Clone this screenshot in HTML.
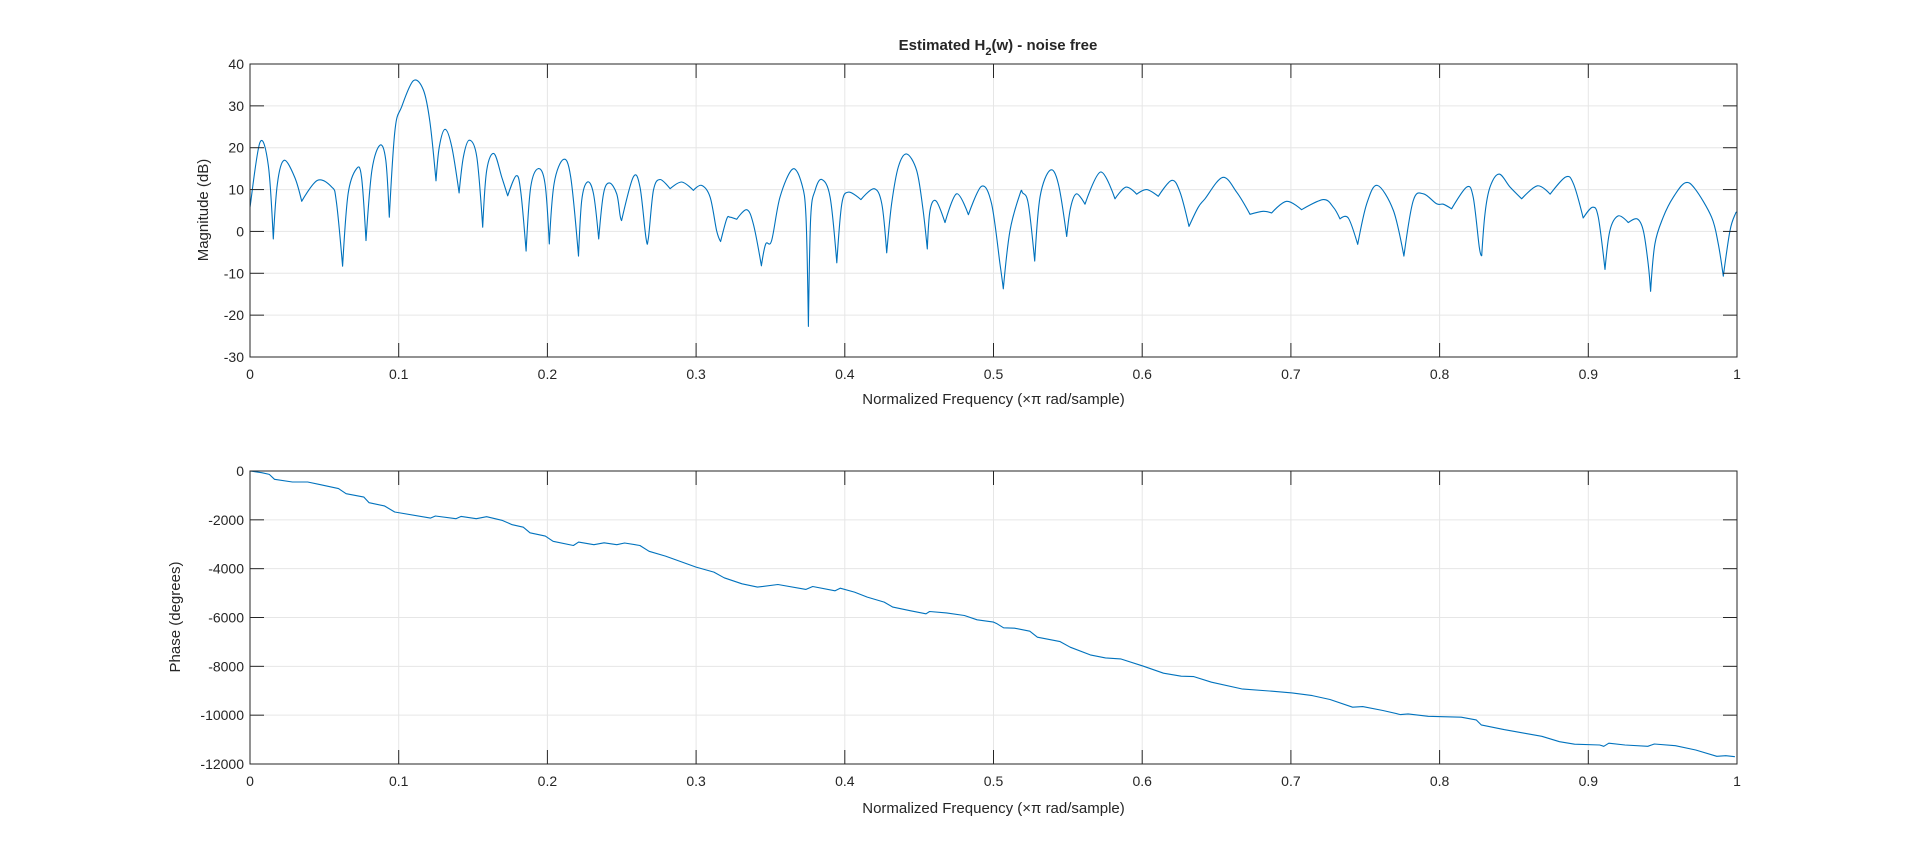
<!DOCTYPE html>
<html><head><meta charset="utf-8"><style>
html,body{margin:0;padding:0;background:#fff;}
svg text{font-family:"Liberation Sans",Arial,sans-serif;fill:#262626;}
</style></head><body>
<svg id="fig" width="1920" height="858" viewBox="0 0 1920 858" xmlns="http://www.w3.org/2000/svg">
<rect width="1920" height="858" fill="#fff"/>
<g id="top"></g>
<g id="bot"></g>
</svg>
<script>
const xTicks = [0,0.1,0.2,0.3,0.4,0.5,0.6,0.7,0.8,0.9,1];
const xTickLabels = ["0","0.1","0.2","0.3","0.4","0.5","0.6","0.7","0.8","0.9","1"];
const magTicks = [40,30,20,10,0,-10,-20,-30];
const phaseTicks = [0,-2000,-4000,-6000,-8000,-10000,-12000];
const magFreq = [0,.0067,.0123,.0157,.0184,.0229,.030,.0348,.0453,.055,.058,.0623,.066,.0717,.075,.078,.082,.0874,.0913,.0937,.0975,.102,.1099,.1166,.121,.1251,.1273,.1312,.1357,.1406,.1435,.1475,.1525,.1565,.1592,.1641,.1693,.1733,.179,.182,.1857,.1888,.1939,.1984,.2013,.2045,.2108,.2157,.2209,.2231,.2269,.231,.2345,.2377,.2417,.2466,.2489,.2499,.2578,.2623,.2663,.2679,.2713,.2757,.2825,.2903,.2982,.3037,.3094,.3138,.3165,.3206,.3228,.3273,.334,.3385,.3439,.3468,.3508,.3564,.3649,.371,.3739,.3755,.3771,.38,.3845,.3901,.3946,.398,.4025,.4108,.4197,.4249,.4282,.4315,.436,.4416,.4483,.4524,.4555,.4573,.4613,.4674,.4752,.4831,.492,.4987,.5044,.5066,.5111,.5178,.5196,.5234,.5277,.5313,.538,.5436,.5492,.5519,.5559,.5615,.572,.5817,.5891,.5963,.603,.6108,.6198,.6254,.6315,.6377,.6422,.6541,.6635,.6725,.6814,.687,.6971,.7072,.7218,.7285,.733,.7386,.7449,.751,.7581,.7689,.776,.7823,.7891,.798,.8025,.8081,.8182,.8226,.8267,.8283,.8305,.8339,.84,.8474,.8552,.8658,.8743,.8848,.89,.8966,.9029,.9067,.9112,.9145,.9201,.9269,.9329,.937,.9403,.9419,.9448,.9504,.9572,.965,.9717,.9829,.9874,.9908,.9953,.9989,1];
const magDb = [5.8,21.3,15.8,-1.8,11.4,17,13,7.2,12.2,10.6,7.4,-8.3,9,15,13,-2.2,14.6,20.6,17,3.4,24.2,29.8,36,33.8,26.2,12.1,20.2,24.4,20.2,9.2,17.8,21.8,17.8,1,14.6,18.6,13,8.5,13.3,9.8,-4.7,10.6,15,11.4,-3,11.4,17.2,13,-5.9,7.4,11.8,9,-1.8,9,11.6,9,3.8,2.6,13,10.6,-1.6,-1.6,9.8,12.4,10.2,11.8,9.8,11,8.2,0.2,-2.4,3,3.4,2.9,5.2,1.8,-8.2,-3,-2.2,8.2,14.9,11.4,3.4,-22.7,3.4,9.8,12.4,8.2,-7.5,6.6,9.4,7.6,10.2,6.6,-5.1,6.6,15.4,18.5,14.6,5.8,-4.2,5,7.3,2.1,9,4,10.8,6.6,-7.8,-13.7,0.2,9,9.2,6.6,-7.1,8.2,14.6,11.4,-1.2,5.8,9,6.5,14.2,7.8,10.6,8.9,10,8.4,12.2,9.4,1.2,5.8,7.8,12.9,9.4,4.1,4.8,4.4,7.2,5.2,7.6,5.8,3,3.2,-3.1,6.6,11,5,-5.9,7.4,9,6.6,6.5,5.4,10.6,8.2,-3.8,-5.8,4.2,10.6,13.7,10.6,7.8,10.9,8.9,13,11.4,3.2,5.8,3.4,-9.1,0.2,3.7,2.1,3,0.2,-7.8,-14.3,-3,3.4,8.2,11.6,10.2,3.4,-3,-10.7,0.2,4.2,4.5];
const phaseFreq = [0,.0079,.013,.0165,.0285,.0388,.0474,.0595,.0646,.0766,.0801,.0904,.0973,.1213,.1247,.1385,.142,.1522,.1591,.1694,.1763,.1838,.1883,.1986,.2038,.2175,.221,.2313,.2381,.2467,.2519,.2622,.2684,.2794,.3,.312,.3189,.3309,.3412,.355,.3739,.3784,.3935,.3969,.4065,.4151,.4265,.4323,.4443,.4546,.457,.4684,.4804,.489,.5,.5024,.5068,.5142,.5244,.5295,.5448,.5516,.5651,.5753,.5855,.6008,.6143,.6262,.6347,.6466,.6669,.6873,.7008,.7144,.7263,.7415,.7483,.7619,.7738,.7788,.7924,.8145,.8246,.828,.8433,.8569,.8687,.8806,.8908,.9077,.9104,.9138,.9247,.94,.9444,.9586,.9722,.9864,.9925,.9986];
const phaseDeg = [0,-70,-140,-340,-450,-450,-560,-720,-930,-1070,-1300,-1430,-1680,-1930,-1845,-1955,-1860,-1955,-1870,-2020,-2200,-2300,-2530,-2665,-2880,-3050,-2910,-3020,-2940,-3020,-2950,-3050,-3290,-3485,-3935,-4140,-4375,-4620,-4755,-4650,-4850,-4730,-4905,-4800,-4960,-5165,-5370,-5575,-5725,-5850,-5755,-5810,-5920,-6095,-6190,-6260,-6420,-6440,-6560,-6805,-6985,-7215,-7530,-7655,-7695,-7995,-8280,-8405,-8420,-8650,-8925,-9020,-9090,-9200,-9360,-9675,-9650,-9810,-9975,-9950,-10045,-10085,-10195,-10400,-10590,-10740,-10865,-11085,-11190,-11220,-11275,-11150,-11220,-11275,-11180,-11250,-11425,-11685,-11660,-11700];

const NS='http://www.w3.org/2000/svg';
const X0=250,X1=1737;
function mk(p,tag,attrs){const e=document.createElementNS(NS,tag);for(const k in attrs)e.setAttribute(k,attrs[k]);p.appendChild(e);return e;}
function smoothPath(pts){
  // Catmull-Rom, but keep local minima (nulls) as sharp cusps
  let d='M'+pts[0][0].toFixed(1)+','+pts[0][1].toFixed(1);
  const isMin=i=>i>0&&i<pts.length-1&&pts[i][1]>pts[i-1][1]&&pts[i][1]>pts[i+1][1];
  for(let i=0;i<pts.length-1;i++){
    const p0=pts[Math.max(0,i-1)],p1=pts[i],p2=pts[i+1],p3=pts[Math.min(pts.length-1,i+2)];
    let c1x=p1[0]+(p2[0]-p0[0])/6,c1y=p1[1]+(p2[1]-p0[1])/6;
    let c2x=p2[0]-(p3[0]-p1[0])/6,c2y=p2[1]-(p3[1]-p1[1])/6;
    if(isMin(i)){c1x=p1[0];c1y=p1[1];}
    if(isMin(i+1)){c2x=p2[0];c2y=p2[1];}
    d+='C'+c1x.toFixed(1)+','+c1y.toFixed(1)+' '+c2x.toFixed(1)+','+c2y.toFixed(1)+' '+p2[0].toFixed(1)+','+p2[1].toFixed(1);
  }
  return d;
}
function drawAxes(g,top,bot,ymax,ymin,yTicks,freq,vals,xlabY,name,smooth){
  const sx=f=>X0+(X1-X0)*f;
  const sy=v=>top+(ymax-v)/(ymax-ymin)*(bot-top);
  xTicks.forEach((t,i)=>{
    const l=mk(g,'line',{x1:sx(t),x2:sx(t),y1:top,y2:bot,stroke:'#e6e6e6','stroke-width':1});
    
    
  });
  yTicks.forEach(t=>{
    const l=mk(g,'line',{x1:X0,x2:X1,y1:sy(t),y2:sy(t),stroke:'#e6e6e6','stroke-width':1});
    
    
  });
  const pts=freq.map((f,i)=>[sx(f),sy(vals[i])]);
  let d;
  if(smooth){d=smoothPath(pts);}else{d='';pts.forEach((p,i)=>{d+=(i?'L':'M')+p[0].toFixed(1)+','+p[1].toFixed(1);});}
  const p=mk(g,'path',{d:d,fill:'none',stroke:'#0072BD','stroke-width':1.1,'stroke-linejoin':'round'});
  
  
  const box=mk(g,'rect',{x:X0,y:top,width:X1-X0,height:bot-top,fill:'none',stroke:'#262626','stroke-width':1});
  
  
  xTicks.forEach((t,i)=>{
    mk(g,'line',{x1:sx(t),x2:sx(t),y1:bot,y2:bot-14,stroke:'#262626'});
    mk(g,'line',{x1:sx(t),x2:sx(t),y1:top,y2:top+14,stroke:'#262626'});
    const tx=mk(g,'text',{x:sx(t),y:bot+22,'font-size':14,'text-anchor':'middle'});
    tx.textContent=xTickLabels[i];
    
    
  });
  yTicks.forEach(t=>{
    mk(g,'line',{x1:X0,x2:X0+14,y1:sy(t),y2:sy(t),stroke:'#262626'});
    mk(g,'line',{x1:X1,x2:X1-14,y1:sy(t),y2:sy(t),stroke:'#262626'});
    const tx=mk(g,'text',{x:X0-6,y:sy(t)+5,'font-size':14,'text-anchor':'end'});
    tx.textContent=String(t);
    
    
  });
  const xl=mk(g,'text',{x:(X0+X1)/2,y:xlabY,'font-size':15,'text-anchor':'middle'});
  xl.textContent='Normalized Frequency  (\u00d7\u03c0 rad/sample)';
  
  
}
const gt=document.getElementById('top'), gb=document.getElementById('bot');
drawAxes(gt,64,357,40,-30,magTicks,magFreq,magDb,404,'magnitude',true);
drawAxes(gb,471,764,0,-12000,phaseTicks,phaseFreq,phaseDeg,813,'phase',false);
const yl1=mk(gt,'text',{x:0,y:0,'font-size':15,'text-anchor':'middle',transform:'translate(208,210) rotate(-90)'});
yl1.textContent='Magnitude (dB)';


const yl2=mk(gb,'text',{x:0,y:0,'font-size':15,'text-anchor':'middle',transform:'translate(180,617) rotate(-90)'});
yl2.textContent='Phase (degrees)';


const tt=mk(gt,'text',{x:998,y:50,'font-size':15,'font-weight':'bold','text-anchor':'middle'});


tt.innerHTML='Estimated H<tspan font-size="11" dy="5">2</tspan><tspan dy="-5">(w) - noise free</tspan>';
</script>
</body></html>
